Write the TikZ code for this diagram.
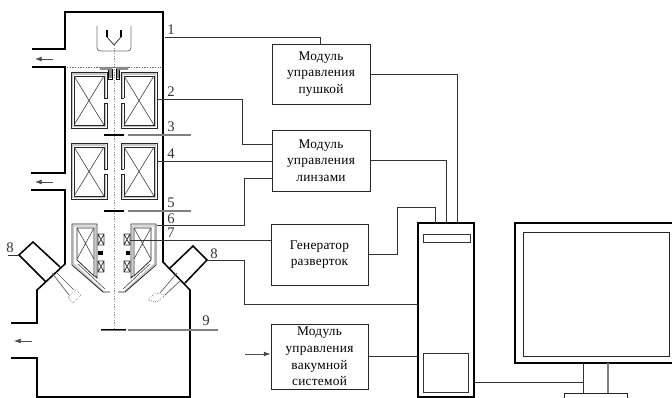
\documentclass[tikz,border=0pt]{standalone}
\usepackage{fontspec}
\setmainfont[LetterSpace=2]{Liberation Serif}
\usetikzlibrary{arrows.meta}
\tikzset{
  wall/.style={line width=1.15pt,black},
  thin line/.style={line width=0.6pt,draw=black!85},
  grayline/.style={line width=0.8pt,draw=black!50},
  wire/.style={line width=0.65pt,draw=black!80},
  module/.style={draw=black!85,line width=0.7pt,inner sep=0pt,outer sep=0pt,align=center,font=\fontsize{10}{12.4}\selectfont},
  num/.style={font=\fontsize{11}{12}\selectfont,inner sep=0pt,text=black!80},
  axisline/.style={line width=0.7pt,draw=black!45,dash pattern=on 1pt off 1pt},
  flow/.style={line width=0.5pt,draw=black!70,-{Latex[length=5pt,width=3.6pt]}},
}
\newcommand{\bigLens}[1]{% #1 = y offset
  \begin{scope}[yshift=#1*-0.75pt]
    \draw[line width=1.2pt,black!22] (105.5,98)--(105.5,74)--(72.5,74)--(72.5,126.5)--(105.5,126.5)--(105.5,103);
    \draw[thin line] (104,98)--(107,98)--(107,72)--(71,72)--(71,128)--(107,128)--(107,103)--(104,103);
    \draw[thin line] (104,98)--(104,76)--(74,76)--(74,125)--(104,125)--(104,103);
    \draw[line width=0.45pt,black!75] (74,76)--(104,125) (104,76)--(74,125);
  \end{scope}}
\newcommand{\lowLens}{%
  \draw[line width=1.1pt,black!22] (95.5,226)--(73.5,226)--(73.5,264)--(103,291);
  \draw[line width=0.9pt,black!22] (95.5,226)--(95.5,276);
  \draw[thin line] (95,276)--(97,278)--(97,224)--(72,224)--(72,265)--(103,292)--(110,292);
  \draw[thin line] (77,228)--(94,228)--(94,276)--(77,260)--cycle;
  \draw[line width=0.45pt,draw=black!70] (78,264)--(105,289);
  \draw[line width=0.45pt,black!75] (77,228)--(94,259) (94,228)--(77,259);
  \draw[line width=0.55pt,black!80] (98,234) rectangle (104,245) (98,234)--(104,245) (104,234)--(98,245);
  \draw[line width=0.55pt,black!80] (98,261) rectangle (104,272) (98,261)--(104,272) (104,261)--(98,272);
  \fill[black] (98,251) rectangle (102.5,255);
}
\newcommand{\topStop}{%
  \fill[black!45] (100,67) rectangle (112,70) (108,67) rectangle (112,78);
  \draw[line width=0.5pt,black] (112,69)--(112,79)--(108.5,79)--(108.5,70);
}
\begin{document}
\begin{tikzpicture}[x=0.75pt,y=-0.75pt]
\useasboundingbox (0,0) rectangle (672,398);
% column and chamber
\draw[wall] (32,49)--(65,49)--(65,12)--(163,12)--(163,262)--(190,290)--(190,397)--(37,397)--(37,358)--(11,358);
\draw[wall] (32,67)--(65,67)--(65,173)--(31,173);
\draw[wall] (31,190)--(65,190)--(65,264)--(37,290)--(37,323)--(11,323);
% detectors
\draw[wall] (60,267)--(33,242)--(19,255)--(46,282);
\draw[wall] (170,268)--(193,246)--(207,260)--(185,283);
\draw[line width=0.5pt,black!65] (52,273)--(69,295) (57,273)--(74,290);
\draw[line width=0.5pt,black!55,densely dotted] (68,297)--(76,290)--(81,295)--(73,303)--cycle;
\draw[line width=0.5pt,black!65] (160,293)--(177,273) (165,295)--(180,281);
\draw[line width=0.5pt,black!55,densely dotted] (148,300)--(155,293)--(165,295)--(157,302)--cycle;
% gun
\draw[line width=0.6pt,black!55,rounded corners=2.5pt] (97,26)--(97,51)--(131,51)--(131,26);
\draw[line width=0.6pt,black!80] (107,37)--(114,45)--(121,37);
\draw[line width=0.9pt,black] (107,30)--(107,37) (121,30)--(121,37);
\draw[axisline] (114,45)--(114,328);
% dotted plane and top apertures
\draw[line width=0.6pt,draw=black!60,dash pattern=on 1pt off 1pt] (67,67.5)--(161,67.5);
\topStop
\begin{scope}[shift={(228,0)},xscale=-1]
  \topStop
\end{scope}
% lenses
\bigLens{0}
\bigLens{71}
\begin{scope}[shift={(228,0)},xscale=-1]
  \bigLens{0}
  \bigLens{71}
\end{scope}
\lowLens
\begin{scope}[shift={(228,0)},xscale=-1]
  \lowLens
\end{scope}
% apertures and specimen
\draw[line width=0.8pt,black] (104,135)--(124,135) (104,211)--(124,211);
\draw[line width=1.6pt,black!55] (101,330)--(126,330);
\draw[line width=0.5pt,black] (101,329)--(126,329);
% modules
\node[module,minimum width=73.5pt,minimum height=45pt] (gun) at (321,74) {Модуль\\управления\\пушкой};
\node[module,minimum width=73.5pt,minimum height=45.75pt] (lens) at (321,160.5) {Модуль\\управления\\линзами};
\node[module,minimum width=72.75pt,minimum height=45.75pt] (scan) at (319.5,254.5) {Генератор\\разверток};
\node[module,minimum width=72.75pt,minimum height=48.75pt] (vac) at (319.5,356.5) {Модуль\\управления\\вакумной\\системой};
% computer
\node[draw=black,line width=1.1pt,minimum width=42pt,minimum height=130.5pt,inner sep=0pt,outer sep=0pt] (pc) at (446,310) {};
\node[draw=black!80,line width=0.6pt,minimum width=35.25pt,minimum height=6pt,inner sep=0pt,outer sep=0pt] (slot) at (446.5,238) {};
\node[draw=black!80,line width=0.6pt,minimum width=33.75pt,minimum height=29.25pt,inner sep=0pt,outer sep=0pt] (drive) at (445.5,372.5) {};
% monitor
\node[draw=black,line width=1.1pt,minimum width=123.75pt,minimum height=105pt,inner sep=0pt,outer sep=0pt] (mon) at (597.5,293) {};
\node[draw=black!85,line width=0.65pt,minimum width=109.5pt,minimum height=93pt,inner sep=0pt,outer sep=0pt] (screen) at (596,294) {};
\node[draw=black!85,line width=0.7pt,minimum width=47.25pt,minimum height=15pt,inner sep=0pt,outer sep=0pt] (base) at (595.5,403) {};
\draw[wire] (583,363)--(583,393);
\draw[line width=0.8pt,black!50] (608,363)--(608,393);
% free ends of leaders
\coordinate (l1) at (165,37);
\coordinate (l2) at (158,99);
\coordinate (l3) at (128,135);
\coordinate (l4) at (158,161);
\coordinate (l5) at (128,211);
\coordinate (l6) at (157,225);
\coordinate (l7) at (130,240);
\coordinate (l8a) at (8,255);
\coordinate (l8b) at (19,255);
\coordinate (l8c) at (207,260);
\coordinate (l9a) at (128,330);
\coordinate (l9b) at (218,330);
\coordinate (l3e) at (191,135);
\coordinate (l5e) at (191,211);
\coordinate (vacin) at (245,354);
\coordinate (vacend) at (270.5,354);
% leaders
\draw[wire] (l1)-|(320,44);
\draw[wire] (l2)-|(242,144)--(lens.west|-0,144);
\draw[grayline] (l3)--(l3e);
\draw[wire] (l4)--(lens.west|-l4);
\draw[grayline] (l5)--(l5e);
\draw[wire] (l6)-|(244,178)--(lens.west|-0,178);
\draw[wire] (l7)--(scan.west|-l7);
\draw[wire] (l8a)--(l8b);
\draw[wire] (l8c)-|(244,304)--(pc.west|-0,304);
\draw[grayline] (l9a)--(l9b);
% module to computer
\draw[wire] (gun.east)-|(457,223);
\draw[wire] (lens.east)-|(446,223);
\draw[wire] (scan.east)-|(397,207)-|(435,223);
\draw[wire] (vac.east)--(pc.west|-vac.east);
\draw[wire] (pc.east|-0,382)--(583,382);
% arrows
\coordinate (a1s) at (53,59); \coordinate (a1e) at (35,59);
\coordinate (a2s) at (53,182); \coordinate (a2e) at (35,182);
\coordinate (a3s) at (32,341); \coordinate (a3e) at (14,341);
\draw[flow] (a1s)--(a1e);
\draw[flow] (a2s)--(a2e);
\draw[flow] (a3s)--(a3e);
\draw[flow] (vacin)--(vacend);
% labels
\node[num] (n1) at (171,29.5) {1};
\node[num] (n2) at (171,92) {2};
\node[num] (n3) at (171,127) {3};
\node[num] (n4) at (171,154) {4};
\node[num] (n5) at (171,203) {5};
\node[num] (n6) at (171,219) {6};
\node[num] (n7) at (171,233) {7};
\node[num] (n8) at (10,248) {8};
\node[num] (n8r) at (214,254) {8};
\node[num] (n9) at (206,321) {9};
\end{tikzpicture}
\end{document}
